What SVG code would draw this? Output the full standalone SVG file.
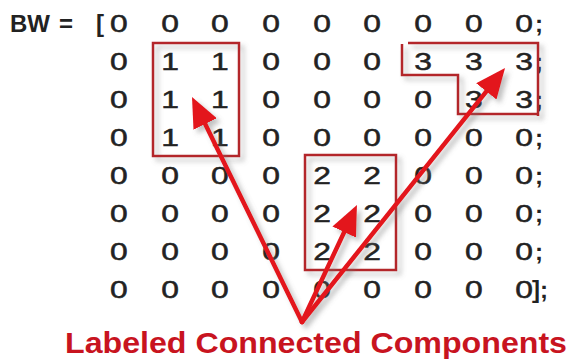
<svg xmlns="http://www.w3.org/2000/svg" width="571" height="363" viewBox="0 0 571 363">
  <style>
    .m { font-family: "Liberation Sans", Arial, sans-serif; font-weight: bold; font-size: 24px; fill: #222; }
    .d { text-anchor: middle; font-weight: normal; font-size: 24.5px; stroke: #222; stroke-width: 0.5; }
    .box { fill: none; stroke: #b3262c; stroke-width: 2.5; }
    .arr { fill: none; stroke: #e3141c; stroke-width: 4.5; stroke-linecap: round; }
    .lbl { font-family: "Liberation Sans", Arial, sans-serif; font-weight: bold; font-size: 30px; fill: #c8141f; }
  </style>
  <defs>
    <filter id="sh" x="-20%" y="-20%" width="150%" height="150%">
      <feDropShadow dx="4" dy="4" stdDeviation="2.5" flood-color="#777" flood-opacity="0.45"/>
    </filter>
    <marker id="ah" markerUnits="userSpaceOnUse" markerWidth="30" markerHeight="26" refX="20" refY="13" orient="auto">
      <path d="M0,0 L30,13 L0,26 z" fill="#e3141c"/>
    </marker>
  </defs>
  <rect width="571" height="363" fill="#fff"/>

  <g id="matrix" class="m">
    <text x="10" y="32">BW</text>
    <text x="66" y="32" text-anchor="middle">=</text>
    <text x="96" y="32">[</text>
    <g class="d" transform="scale(1.3,1)">
      <text y="32"><tspan x="91.5">0</tspan><tspan x="130.8">0</tspan><tspan x="169.2">0</tspan><tspan x="208.5">0</tspan><tspan x="247.7">0</tspan><tspan x="286.2">0</tspan><tspan x="325.4">0</tspan><tspan x="364.6">0</tspan><tspan x="403.1">0</tspan></text>
      <text y="70"><tspan x="91.5">0</tspan><tspan x="130.8">1</tspan><tspan x="169.2">1</tspan><tspan x="208.5">0</tspan><tspan x="247.7">0</tspan><tspan x="286.2">0</tspan><tspan x="325.4">3</tspan><tspan x="364.6">3</tspan><tspan x="403.1">3</tspan></text>
      <text y="108"><tspan x="91.5">0</tspan><tspan x="130.8">1</tspan><tspan x="169.2">1</tspan><tspan x="208.5">0</tspan><tspan x="247.7">0</tspan><tspan x="286.2">0</tspan><tspan x="325.4">0</tspan><tspan x="364.6">3</tspan><tspan x="403.1">3</tspan></text>
      <text y="146"><tspan x="91.5">0</tspan><tspan x="130.8">1</tspan><tspan x="169.2">1</tspan><tspan x="208.5">0</tspan><tspan x="247.7">0</tspan><tspan x="286.2">0</tspan><tspan x="325.4">0</tspan><tspan x="364.6">0</tspan><tspan x="403.1">0</tspan></text>
      <text y="184"><tspan x="91.5">0</tspan><tspan x="130.8">0</tspan><tspan x="169.2">0</tspan><tspan x="208.5">0</tspan><tspan x="247.7">2</tspan><tspan x="286.2">2</tspan><tspan x="325.4">0</tspan><tspan x="364.6">0</tspan><tspan x="403.1">0</tspan></text>
      <text y="222"><tspan x="91.5">0</tspan><tspan x="130.8">0</tspan><tspan x="169.2">0</tspan><tspan x="208.5">0</tspan><tspan x="247.7">2</tspan><tspan x="286.2">2</tspan><tspan x="325.4">0</tspan><tspan x="364.6">0</tspan><tspan x="403.1">0</tspan></text>
      <text y="260"><tspan x="91.5">0</tspan><tspan x="130.8">0</tspan><tspan x="169.2">0</tspan><tspan x="208.5">0</tspan><tspan x="247.7">2</tspan><tspan x="286.2">2</tspan><tspan x="325.4">0</tspan><tspan x="364.6">0</tspan><tspan x="403.1">0</tspan></text>
      <text y="298"><tspan x="91.5">0</tspan><tspan x="130.8">0</tspan><tspan x="169.2">0</tspan><tspan x="208.5">0</tspan><tspan x="247.7">0</tspan><tspan x="286.2">0</tspan><tspan x="325.4">0</tspan><tspan x="364.6">0</tspan><tspan x="403.1">0</tspan></text>
    </g>
    <text x="535" y="32">;</text>
    <text x="535" y="70">;</text>
    <text x="535" y="108">;</text>
    <text x="535" y="146">;</text>
    <text x="535" y="184">;</text>
    <text x="535" y="222">;</text>
    <text x="535" y="260">;</text>
    <text x="532" y="298">];</text>
  </g>

  <g id="component1" filter="url(#sh)">
    <rect class="box" x="153" y="43" width="86" height="113"/>
  </g>
  <g id="component2" filter="url(#sh)">
    <rect class="box" x="305" y="155" width="91" height="115"/>
  </g>
  <g id="component3" filter="url(#sh)">
    <path class="box" d="M408,43 L538,43 L538,116 M538,114 L458,114 L458,75 L402,75 L402,44"/>
  </g>

  <g id="connectors" filter="url(#sh)">
    <path class="arr" d="M302,322 L196.4,106" marker-end="url(#ah)"/>
    <path class="arr" d="M302,322 L352.7,214" marker-end="url(#ah)"/>
    <path class="arr" d="M302,322 L498.8,75.8" marker-end="url(#ah)"/>
  </g>

  <g id="label">
    <text class="lbl" x="65" y="353" textLength="502" lengthAdjust="spacingAndGlyphs">Labeled Connected Components</text>
  </g>
</svg>
